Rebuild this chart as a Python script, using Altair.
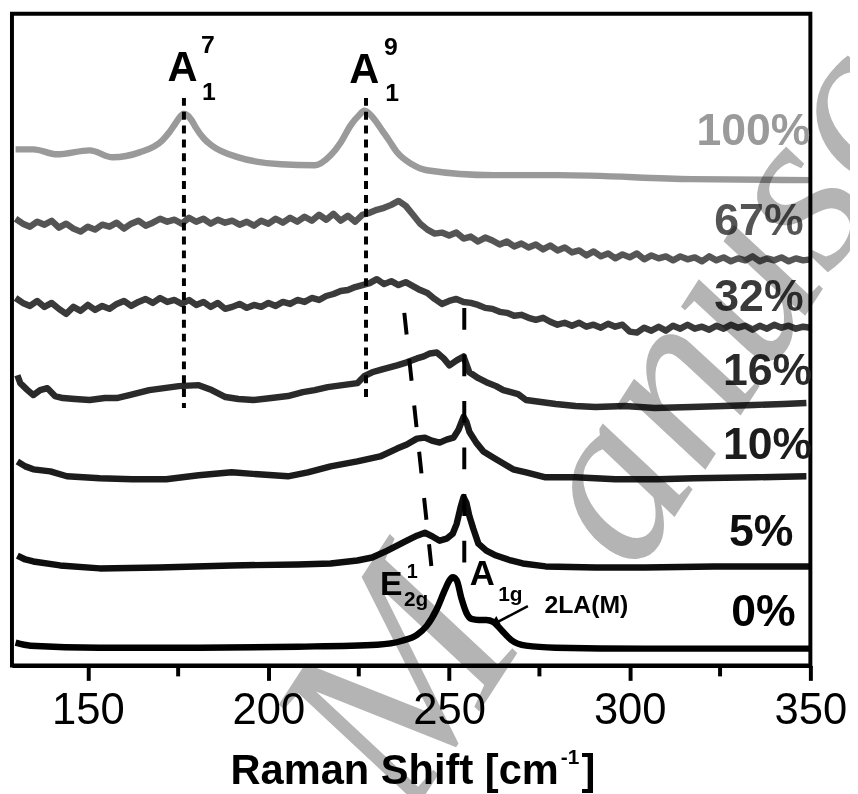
import altair as alt
import pandas as pd

# ---------------- data (Raman shift in cm^-1, stacked intensity in a.u.) ----------------
series = ["100%", "67%", "32%", "16%", "10%", "5%", "0%"]
colors = ["#9a9a9a", "#555555", "#3a3a3a", "#2a2a2a", "#1c1c1c", "#0e0e0e", "#000000"]

x_100 = [130.0, 134.9, 141.5, 150.5, 156.9, 164.3, 170.6, 172.5, 174.4, 175.8, 176.6, 177.7, 178.8, 179.9,
         182.1, 184.3, 191.7, 203.5, 212.8, 217.2, 220.0, 222.7, 225.2, 226.5, 227.9, 229.6, 231.5, 233.4,
         235.6, 239.7, 243.8, 262.2, 280.3, 317.1, 350.3]
v_100 = [521, 521, 516, 520, 513, 518, 530, 538, 548, 555, 557, 555, 550, 543,
         532, 525, 513, 506, 505, 515, 528, 545, 556, 560, 557, 550, 540, 530,
         518, 506, 500, 495, 495, 491, 490]

x_67 = [130, 132, 134, 136, 138, 140, 142, 144, 146, 148, 150, 152, 154, 156, 158, 160, 162, 164, 166, 168,
        170, 172, 174, 176, 178, 180, 182, 184, 186, 188, 190, 192, 194, 196, 198, 200, 202, 204, 206, 208,
        210, 212, 214, 216, 218, 220, 222, 224, 226, 228, 230, 232, 234, 236, 238, 240, 242, 244, 246, 248,
        250, 252, 254, 256, 258, 260, 262, 264, 266, 268, 270, 272, 274, 276, 278, 280, 282, 284, 286, 288,
        290, 292, 294, 296, 298, 300, 302, 304, 306, 308, 310, 312, 314, 316, 318, 320, 322, 324, 326, 328,
        330, 332, 334, 336, 338, 340, 342, 344, 346, 348, 350]
v_67 = [451, 446, 443, 448, 445, 449, 442, 446, 441, 438, 443, 440, 445, 443, 447, 441, 446, 449, 444, 447,
        451, 448, 450, 446, 452, 448, 451, 446, 450, 447, 449, 445, 448, 444, 449, 446, 451, 447, 452, 448,
        453, 449, 455, 450, 456, 449, 454, 448, 455, 457, 460, 462, 465, 469, 464, 455, 446, 440, 436, 437,
        434, 437, 431, 433, 428, 432, 429, 425, 428, 423, 426, 422, 425, 420, 424, 419, 422, 417, 419, 414,
        418, 413, 416, 411, 415, 412, 416, 410, 414, 411, 413, 409, 413, 410, 412, 408, 413, 409, 412, 408,
        411, 409, 413, 408, 411, 409, 412, 408, 411, 409, 410]

x_32 = x_67
v_32 = [371, 366, 363, 368, 362, 366, 360, 355, 362, 358, 364, 359, 363, 360, 365, 368, 363, 367, 370, 366,
        371, 367, 369, 365, 369, 364, 367, 362, 366, 360, 362, 365, 361, 364, 362, 366, 363, 367, 365, 369,
        367, 371, 369, 373, 375, 378, 379, 382, 384, 386, 390, 385, 388, 384, 387, 383, 379, 376, 370, 365,
        368, 370, 367, 366, 364, 361, 360, 357, 356, 353, 354, 351, 349, 351, 347, 344, 346, 343, 346, 342,
        344, 341, 345, 342, 344, 337, 336, 341, 338, 342, 338, 343, 340, 344, 340, 342, 339, 343, 340, 344,
        341, 343, 339, 343, 340, 344, 341, 343, 340, 342, 341]

x_16 = [130.5, 131.3, 133.3, 134.9, 136.8, 138.8, 140.9, 143.1, 146.4, 150.5, 154.7, 158.0, 161.5, 167.0,
        171.1, 175.2, 180.7, 184.3, 188.1, 191.7, 195.8, 200.8, 205.4, 209.5, 212.8, 216.4, 220.5, 224.6,
        226.5, 228.7, 231.5, 235.6, 238.3, 241.1, 243.0, 244.7, 246.6, 248.5, 250.1, 252.1, 254.0, 255.6,
        258.1, 260.3, 263.0, 265.0, 267.1, 269.1, 271.3, 275.4, 279.5, 285.0, 290.5, 298.7, 306.9, 317.1,
        326.1, 334.4, 342.6, 348.9]
v_16 = [293, 285, 278, 273, 278, 280, 272, 270, 269, 268, 270, 270, 273, 278,
        280, 282, 283, 278, 271, 269, 268, 270, 272, 276, 278, 281, 283, 285,
        292, 296, 299, 303, 306, 310, 312, 315, 316, 310, 303, 308, 312, 296,
        290, 286, 282, 278, 276, 274, 268, 266, 264, 262, 261, 262, 260, 261,
        262, 263, 264, 265]

x_10 = [130.5, 132.7, 134.9, 139.6, 144.2, 153.3, 162.3, 171.7, 180.7, 189.8, 197.2, 205.4, 210.9, 217.2,
        224.6, 230.9, 235.6, 238.3, 241.1, 243.3, 245.2, 247.4, 249.3, 251.2, 252.6, 254.0, 254.8, 255.6,
        257.5, 259.5, 262.2, 265.0, 267.7, 271.3, 276.7, 285.0, 296.0, 307.8, 317.9, 335.2, 348.9]
v_10 = [206, 201, 198, 196, 191, 189, 188, 188, 192, 195, 193, 191, 195, 201,
        206, 211, 219, 223, 229, 230, 227, 225, 228, 230, 238, 251, 246, 236,
        225, 216, 210, 204, 198, 195, 190, 190, 188, 188, 189, 190, 191]

x_5 = [130.5, 132.7, 134.9, 142.3, 153.3, 169.8, 189.8, 208.2, 217.2, 224.6, 228.7, 232.9, 235.6, 238.3,
       241.1, 243.3, 245.5, 247.4, 249.3, 251.0, 252.1, 253.2, 254.0, 254.8, 255.6, 256.7, 258.1, 260.3,
       263.0, 267.1, 270.4, 276.7, 290.5, 304.2, 323.4, 350.3]
v_5 = [111, 107, 105, 101, 98, 99, 101, 102, 103, 106, 109, 116, 121, 126,
       131, 134, 130, 126, 128, 133, 143, 160, 170, 164, 151, 138, 123, 116,
       111, 106, 103, 100, 99, 99, 100, 100]

x_0 = [130.0, 134.1, 153.3, 180.7, 208.2, 230.1, 237.0, 241.1, 243.8, 246.6, 248.8, 250.1, 251.0, 252.1,
       253.4, 254.8, 256.2, 258.1, 260.3, 262.2, 264.4, 267.1, 271.3, 279.5, 304.2, 350.3]
v_0 = [23, 20, 18, 18, 19, 21, 25, 31, 40, 57, 76, 86, 89, 86,
       68, 53, 47, 46, 46, 44, 36, 26, 20, 18, 17, 17]

# percentage labels: right edge position and baseline level
pct_x = [350.0, 348.1, 348.1, 350.5, 350.5, 345.3, 345.9]
pct_v = [525, 435, 358, 283, 208, 121, 40]

# mode guide lines (x, v, x2, v2)
guide_short = {"x": [176.6, 227.0], "v": [573, 573], "x2": [176.6, 227.0], "v2": [260, 265]}
guide_long = {"x": [237.6, 254.2], "v": [356, 361], "x2": [245.1, 254.2], "v2": [100, 101]}

# mode annotations
ann_text = ["A", "7", "1", "A", "9", "1", "E", "1", "2g", "A", "1g", "2LA(M)"]
ann_x = [176.2, 181.3, 181.6, 226.5, 232.0, 232.3, 230.9, 238.3, 237.5, 259.2, 263.6, 276.4]
ann_v = [590, 618, 571, 588, 616, 570, 71, 88, 60, 81, 65, 53]
ann_fs = [42, 25, 25, 42, 25, 25, 34, 20, 21, 35, 21, 25]
ann_align = ["center", "left", "left", "center", "left", "left", "left", "left", "left", "center", "left", "left"]

arrow_line = {"x": [271.8], "v": [60], "x2": [263.5], "v2": [44]}
arrow_head = {"x": [263.0], "v": [44.5]}

# ---------------- build ----------------
xs = [x_100, x_67, x_32, x_16, x_10, x_5, x_0]
vs = [v_100, v_67, v_32, v_16, v_10, v_5, v_0]
rows = []
for s, xx, vv in zip(series, xs, vs):
    for i, (a, b) in enumerate(zip(xx, vv)):
        rows.append({"series": s, "x": a, "v": b, "i": i})
df = pd.DataFrame(rows)
smooth_set = ["100%", "0%"]
df_smooth = df[df["series"].isin(smooth_set)]
df_rough = df[~df["series"].isin(smooth_set)]

FONT = "Liberation Sans"
W, H = 806, 658

xenc = alt.X("x:Q", scale=alt.Scale(domain=[129, 350], nice=False, zero=False),
             axis=alt.Axis(values=[150, 200, 250, 300, 350], title=None, grid=False, tickSize=15,
                           tickWidth=4, tickColor="black", domainWidth=4, domainColor="black",
                           labelFontSize=44, labelFont=FONT, labelColor="black", labelPadding=9,
                           labelFlush=False, labelOverlap=False, labelBound=False, format="d"))
yenc = alt.Y("v:Q", scale=alt.Scale(domain=[0, 658], nice=False, zero=False), axis=None)
cenc = alt.Color("series:N", scale=alt.Scale(domain=series, range=colors), legend=None)

smooth = alt.Chart(df_smooth).mark_line(strokeWidth=6.5, interpolate="monotone", strokeJoin="round").encode(
    x=xenc, y=yenc, color=cenc, detail="series:N", order="i:Q")
rough = alt.Chart(df_rough).mark_line(strokeWidth=6.5, strokeJoin="round").encode(
    x=xenc, y=yenc, color=cenc, detail="series:N", order="i:Q")

frame = alt.Chart(pd.DataFrame({"k": [0]})).mark_rect(
    filled=False, stroke="black", strokeWidth=4).encode(
    x=alt.value(0), x2=alt.value(W), y=alt.value(0), y2=alt.value(H))

minor = alt.Chart(pd.DataFrame({"x": [175, 225, 275, 325]})).mark_rule(
    color="black", strokeWidth=4).encode(x=xenc, y=alt.value(H), y2=alt.value(H + 11))

g_short = alt.Chart(pd.DataFrame(guide_short)).mark_rule(
    color="black", strokeWidth=4, strokeDash=[8, 6]).encode(x=xenc, y=yenc, x2="x2:Q", y2="v2:Q")
g_long = alt.Chart(pd.DataFrame(guide_long)).mark_rule(
    color="black", strokeWidth=4, strokeDash=[22, 25]).encode(x=xenc, y=yenc, x2="x2:Q", y2="v2:Q")

pct = alt.Chart(pd.DataFrame({"t": series, "x": pct_x, "v": pct_v, "c": colors})).mark_text(
    font=FONT, fontWeight="bold", fontSize=45, align="right", baseline="alphabetic").encode(
    x=xenc, y=yenc, text="t:N", color=alt.Color("c:N", scale=None))

ann_df = pd.DataFrame({"t": ann_text, "x": ann_x, "v": ann_v, "fs": ann_fs, "al": ann_align})
ann_c = alt.Chart(ann_df[ann_df["al"] == "center"]).mark_text(
    font=FONT, fontWeight="bold", align="center", baseline="alphabetic", color="black").encode(
    x=xenc, y=yenc, text="t:N", size=alt.Size("fs:Q", scale=None))
ann_l = alt.Chart(ann_df[ann_df["al"] == "left"]).mark_text(
    font=FONT, fontWeight="bold", align="left", baseline="alphabetic", color="black").encode(
    x=xenc, y=yenc, text="t:N", size=alt.Size("fs:Q", scale=None))

arr_l = alt.Chart(pd.DataFrame(arrow_line)).mark_rule(color="black", strokeWidth=2.5).encode(
    x=xenc, y=yenc, x2="x2:Q", y2="v2:Q")
arr_h = alt.Chart(pd.DataFrame(arrow_head)).mark_point(
    shape="triangle", filled=True, color="black", opacity=1, size=90, angle=243).encode(x=xenc, y=yenc)

# axis title (with superscript)
t1 = alt.Chart(pd.DataFrame({"t": ["Raman Shift [cm"]})).mark_text(
    font=FONT, fontWeight="bold", fontSize=42, align="right", baseline="alphabetic", color="black").encode(
    x=alt.value(552), y=alt.value(778), text="t:N")
t2 = alt.Chart(pd.DataFrame({"t": ["-1"]})).mark_text(
    font=FONT, fontWeight="bold", fontSize=21, align="left", baseline="alphabetic", color="black").encode(
    x=alt.value(554), y=alt.value(757), text="t:N")
t3 = alt.Chart(pd.DataFrame({"t": ["]"]})).mark_text(
    font=FONT, fontWeight="bold", fontSize=42, align="left", baseline="alphabetic", color="black").encode(
    x=alt.value(575), y=alt.value(778), text="t:N")

# watermark
wm1 = alt.Chart(pd.DataFrame({"t": ["M"]})).mark_text(
    font="Liberation Serif", fontStyle="italic", fontSize=265, angle=303, align="left",
    baseline="alphabetic", color="#b4b4b4", blend="multiply").encode(
    x=alt.value(400), y=alt.value(815), text="t:N")
wm2 = alt.Chart(pd.DataFrame({"t": ["anuscript"]})).mark_text(
    font="Liberation Serif", fontStyle="italic", fontSize=240, angle=303, align="left",
    baseline="alphabetic", color="#b4b4b4", blend="multiply").encode(
    x=alt.value(630), y=alt.value(568), text="t:N")

chart = alt.layer(smooth, rough, frame, minor, g_short, g_long, pct, ann_c, ann_l, arr_l, arr_h,
                  t1, t2, t3, wm1, wm2).properties(
    width=W, height=H,
    autosize=alt.AutoSizeParams(type="none"),
    padding={"left": 4, "top": 2, "right": 40, "bottom": 126},
    background="white",
).configure_view(stroke=None)

chart.save("out.html", embed_options={"renderer": "svg", "actions": False})
